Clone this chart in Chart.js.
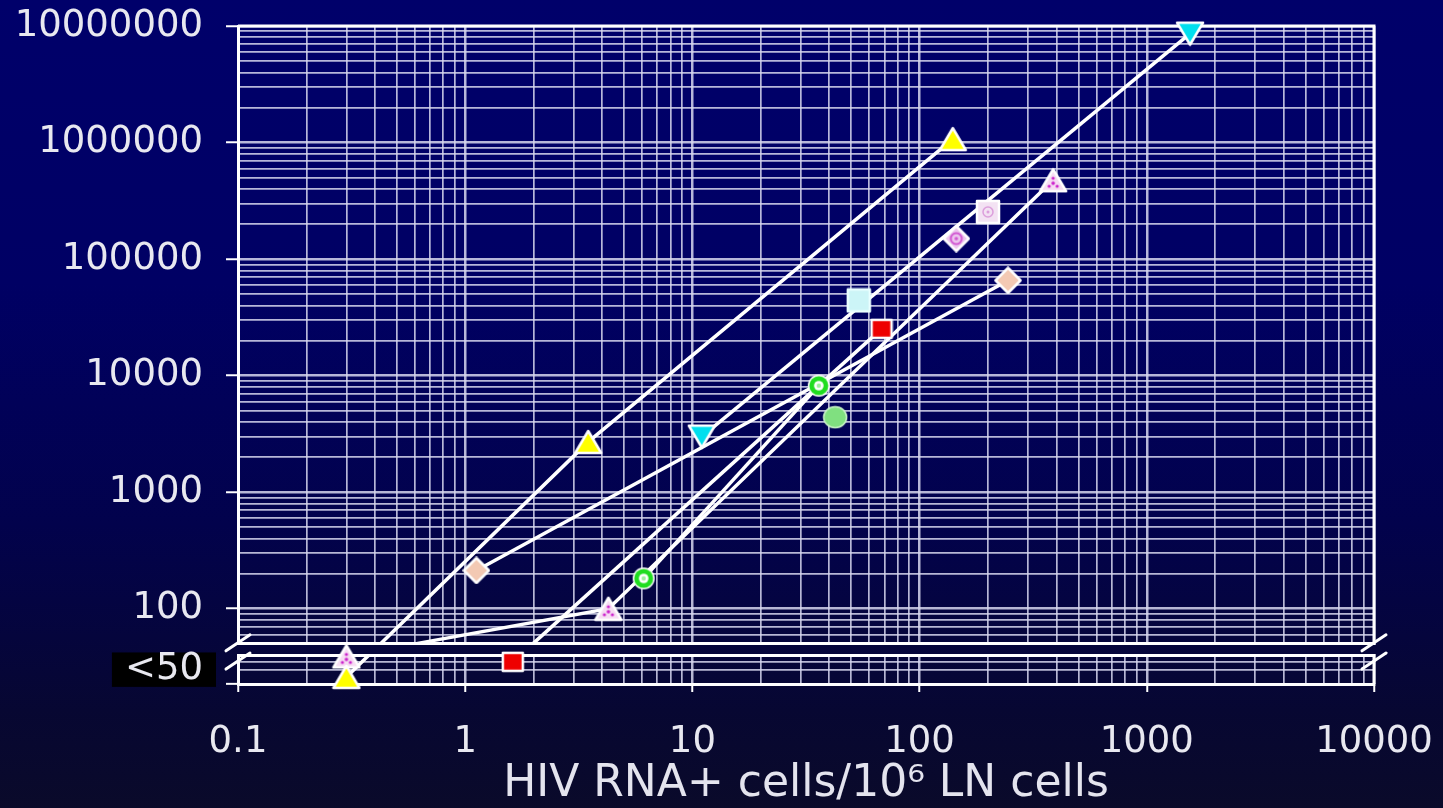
<!DOCTYPE html>
<html>
<head>
<meta charset="utf-8">
<script src="https://cdn.jsdelivr.net/npm/chart.js@4.4.0/dist/chart.umd.min.js"></script>
<style>
html, body {
	margin: 0;
	padding: 0;
	width: 1443px;
	height: 808px;
	overflow: hidden;
	background: linear-gradient(180deg, #00006a 0%, #000064 35%, #02024c 65%, #070732 88%, #0a0a2a 100%);
}
canvas { display: block; }
</style>
</head>
<body>
<canvas id="chart" width="1443" height="808"></canvas>
<script>
// values (both axes log)
const yellowTriX = [0.3, 3.48, 140];
const yellowTriY = [26, 2700, 1070000];
const peachDiamondX = [1.12, 245];
const peachDiamondY = [213, 65600];
const cyanTriX = [11, 1550];
const cyanTriY = [3000, 8600000];
const pinkTriX = [0.3, 4.27, 387];
const pinkTriY = [39, 100, 475000];
const greenRingX = [6.1, 36];
const greenRingY = [182, 8200];
const redSquareX = [1.62, 68];
const redSquareY = [35, 25200];
const lightSquareX = [54];
const lightSquareY = [44200];
const pinkDiamondX = [145];
const pinkDiamondY = [150000];
const pinkSquareX = [200];
const pinkSquareY = [254000];
const greenDotX = [42.5];
const greenDotY = [4400];

const xTickLabels = ['0.1', '1', '10', '100', '1000', '10000'];
const yTickLabels = ['100', '1000', '10000', '100000', '1000000', '10000000'];
const belowLabel = '<50';
const belowLabelValue = 30;
const yBottom = 22.6;
const breakTop = 50;
const breakBottom = 40;
const breakGrid = [30, 35];

// grid ticks: 1..9 in every decade
const xTickValues = [];
for (let e = -1; e <= 4; e++) {
	for (let m = 1; m <= 9; m++) {
		const v = parseFloat((m * Math.pow(10, e)).toPrecision(6));
		if (v <= 10000) xTickValues.push(v);
	}
}
const yTickValues = [yBottom, ...breakGrid, breakBottom];
for (let e = 1; e <= 7; e++) {
	for (let m = 1; m <= 9; m++) {
		const v = m * Math.pow(10, e);
		if (v >= breakTop && v <= 10000000) yTickValues.push(v);
	}
}

const isDecade = v => Math.abs(Math.log10(v) - Math.round(Math.log10(v))) < 1e-9;

function makeMarker(w, h, paint) {
	const c = document.createElement('canvas');
	c.width = w;
	c.height = h;
	const g = c.getContext('2d');
	g.lineJoin = 'round';
	paint(g);
	return c;
}
function poly(g, pts, fill, stroke, lw) {
	g.beginPath();
	g.moveTo(pts[0][0], pts[0][1]);
	pts.slice(1).forEach(p => g.lineTo(p[0], p[1]));
	g.closePath();
	g.fillStyle = fill;
	g.fill();
	g.strokeStyle = stroke;
	g.lineWidth = lw;
	g.stroke();
}
function dot(g, x, y, r, fill) {
	g.beginPath();
	g.arc(x, y, r, 0, Math.PI * 2);
	g.fillStyle = fill;
	g.fill();
}
function ring(g, x, y, r, stroke, lw) {
	g.beginPath();
	g.arc(x, y, r, 0, Math.PI * 2);
	g.strokeStyle = stroke;
	g.lineWidth = lw;
	g.stroke();
}

const yellowTri = makeMarker(30, 26, g => poly(g, [[15, 2], [28, 24], [2, 24]], '#ffff00', '#ffffff', 2.5));
const cyanTri = makeMarker(30, 26, g => poly(g, [[2, 2], [28, 2], [15, 24]], '#00dfee', '#ffffff', 2.5));
const pinkTri = makeMarker(30, 26, g => {
	poly(g, [[15, 2], [28, 24], [2, 24]], '#f6dcf3', '#ffffff', 2.5);
	dot(g, 15, 11, 1.6, '#cc22cc');
	dot(g, 11, 19, 1.6, '#cc22cc');
	dot(g, 19, 19, 1.6, '#cc22cc');
	dot(g, 15, 16, 1.8, '#cc22cc');
});
const peachDiamond = makeMarker(28, 28, g => poly(g, [[14, 1.5], [26.5, 14], [14, 26.5], [1.5, 14]], '#f3c9b3', '#ffffff', 2.5));
const pinkDiamond = makeMarker(28, 28, g => {
	poly(g, [[14, 1.5], [26.5, 14], [14, 26.5], [1.5, 14]], '#ecc6ee', '#ffffff', 2.5);
	ring(g, 14, 14, 5.5, '#d257d2', 2);
	dot(g, 14, 14, 1.8, '#d257d2');
});
const pinkSquare = makeMarker(26, 26, g => {
	poly(g, [[2, 2], [24, 2], [24, 24], [2, 24]], '#f3e2f3', '#ffffff', 2.5);
	ring(g, 13, 13, 5, '#dc9edc', 1.5);
	dot(g, 13, 13, 1.5, '#dc9edc');
});
const lightSquare = makeMarker(26, 26, g => poly(g, [[2, 2], [24, 2], [24, 24], [2, 24]], '#ccf5f7', '#eaffff', 2.5));
const redSquare = makeMarker(24, 22, g => poly(g, [[2, 2], [22, 2], [22, 20], [2, 20]], '#ee0000', '#ffffff', 2.5));
const greenRing = makeMarker(24, 24, g => {
	dot(g, 12, 12, 11, '#ffffff');
	dot(g, 12, 12, 9.5, '#20dd20');
	dot(g, 12, 12, 4.8, '#ffffff');
	dot(g, 12, 12, 2.2, '#9ff09f');
});
const greenDot = makeMarker(26, 24, g => {
	g.beginPath();
	g.ellipse(13, 12, 11.5, 10.5, 0, 0, Math.PI * 2);
	g.fillStyle = '#80e080';
	g.fill();
	g.strokeStyle = '#c8f2c8';
	g.lineWidth = 1.5;
	g.stroke();
});

const toPoints = (xs, ys) => xs.map((x, i) => ({ x: x, y: ys[i] }));

const lineSeries = [
	[yellowTriX, yellowTriY],
	[peachDiamondX, peachDiamondY],
	[cyanTriX, cyanTriY],
	[pinkTriX, pinkTriY],
	[greenRingX, greenRingY],
	[redSquareX, redSquareY]
];
const markerSeries = [
	[yellowTriX, yellowTriY, yellowTri],
	[peachDiamondX, peachDiamondY, peachDiamond],
	[cyanTriX, cyanTriY, cyanTri],
	[pinkTriX, pinkTriY, pinkTri],
	[greenRingX, greenRingY, greenRing],
	[redSquareX, redSquareY, redSquare],
	[lightSquareX, lightSquareY, lightSquare],
	[pinkDiamondX, pinkDiamondY, pinkDiamond],
	[pinkSquareX, pinkSquareY, pinkSquare],
	[greenDotX, greenDotY, greenDot]
];

const datasets = [];
lineSeries.forEach(s => {
	datasets.push({
		role: 'line',
		data: toPoints(s[0], s[1]),
		showLine: true,
		borderColor: '#ffffff',
		borderWidth: 3.5,
		pointRadius: 0,
		order: 2
	});
});
markerSeries.forEach(s => {
	datasets.push({
		role: 'marker',
		data: toPoints(s[0], s[1]),
		showLine: false,
		pointStyle: s[2],
		pointRadius: 12,
		order: 1,
		clip: false
	});
});

// axis break: hide everything between the two break lines, add // marks
const axisBreak = {
	id: 'axisBreak',
	beforeDatasetsDraw(chart) {
		const { ctx, chartArea: a } = chart;
		ctx.save();
		ctx.strokeStyle = '#ffffff';
		ctx.lineWidth = 3;
		ctx.beginPath();
		ctx.moveTo(a.left, a.top);
		ctx.lineTo(a.right, a.top);
		ctx.lineTo(a.right, a.bottom);
		ctx.stroke();
		ctx.restore();
		chart.$gapDone = false;
	},
	beforeDatasetDraw(chart, args) {
		if (chart.$gapDone || chart.data.datasets[args.index].role !== 'marker') return;
		chart.$gapDone = true;
		const y = chart.scales.y;
		const a = chart.chartArea;
		const top = y.getPixelForValue(breakTop) + 1.5;
		const bottom = y.getPixelForValue(breakBottom) - 1.5;
		chart.ctx.clearRect(a.left - 4, top, a.right - a.left + 8, bottom - top);
	},
	afterDatasetsDraw(chart) {
		const { ctx, chartArea: a } = chart;
		const y = chart.scales.y;
		const c1 = y.getPixelForValue(breakTop) - 1;
		const c2 = y.getPixelForValue(breakBottom) + 6;
		ctx.save();
		ctx.strokeStyle = '#ffffff';
		ctx.lineWidth = 3;
		ctx.lineCap = 'round';
		[a.left, a.right].forEach(x => {
			[c1, c2].forEach(cy => {
				ctx.beginPath();
				ctx.moveTo(x - 12, cy + 8);
				ctx.lineTo(x + 12, cy - 8);
				ctx.stroke();
			});
		});
		ctx.restore();
	}
};

Chart.defaults.font.family = "'DejaVu Sans', sans-serif";

const gridColor = 'rgba(215, 215, 238, 0.85)';

new Chart(document.querySelector('#chart').getContext('2d'), {
	type: 'scatter',
	data: { datasets: datasets },
	plugins: [axisBreak],
	options: {
		responsive: false,
		animation: false,
		layout: {
			padding: { top: 26, right: 69, left: 0, bottom: 0 }
		},
		plugins: {
			legend: { display: false },
			tooltip: { enabled: false }
		},
		scales: {
			x: {
				type: 'logarithmic',
				min: 0.1,
				max: 10000,
				afterBuildTicks: scale => {
					scale.ticks = xTickValues.map(v => ({ value: v }));
				},
				afterFit: scale => {
					scale.height = 124;
					scale.paddingLeft = 0;
					scale.paddingRight = 0;
				},
				border: { color: '#ffffff', width: 3 },
				grid: {
					color: gridColor,
					lineWidth: ctx => (ctx.tick && isDecade(ctx.tick.value) ? 2.5 : 1.7),
					tickColor: ctx => (ctx.tick && isDecade(ctx.tick.value) ? '#ffffff' : 'rgba(0,0,0,0)'),
					tickLength: 8,
					tickWidth: 2
				},
				ticks: {
					autoSkip: false,
					maxRotation: 0,
					minRotation: 0,
					padding: 28,
					color: '#e8e8f0',
					font: { size: 37 },
					callback: value => (isDecade(value) ? xTickLabels[Math.round(Math.log10(value)) + 1] : '')
				},
				title: {
					display: true,
					text: 'HIV RNA+ cells/10⁶ LN cells',
					color: '#e4e4ee',
					font: { size: 44 },
					padding: { top: 0, bottom: -3 }
				}
			},
			y: {
				type: 'logarithmic',
				min: yBottom,
				max: 10000000,
				afterBuildTicks: scale => {
					scale.ticks = yTickValues.map(v => ({ value: v }));
				},
				afterFit: scale => {
					scale.width = 238;
					scale.paddingTop = 0;
					scale.paddingBottom = 0;
				},
				border: { color: '#ffffff', width: 3 },
				grid: {
					color: ctx => (ctx.tick && (ctx.tick.value === breakTop || ctx.tick.value === breakBottom) ? '#ffffff' : gridColor),
					lineWidth: ctx => {
						if (!ctx.tick) return 1.7;
						const v = ctx.tick.value;
						if (v === breakTop || v === breakBottom) return 3;
						return isDecade(v) ? 2.5 : 1.7;
					},
					tickColor: ctx => (ctx.tick && ((isDecade(ctx.tick.value) && ctx.tick.value >= 100) || ctx.tick.value === yBottom) ? '#ffffff' : 'rgba(0,0,0,0)'),
					tickLength: 12,
					tickWidth: 2
				},
				ticks: {
					autoSkip: false,
					padding: 23,
					color: '#e8e8f0',
					font: { size: 37 },
					showLabelBackdrop: true,
					backdropColor: ctx => (ctx.tick && ctx.tick.value === belowLabelValue ? '#000000' : 'rgba(0,0,0,0)'),
					backdropPadding: { left: 13, right: 13, top: -5, bottom: -5 },
					callback: value => {
						if (value === belowLabelValue) return belowLabel;
						if (value >= 100 && isDecade(value)) return yTickLabels[Math.round(Math.log10(value)) - 2];
						return '';
					}
				}
			}
		}
	}
});
</script>
</body>
</html>
